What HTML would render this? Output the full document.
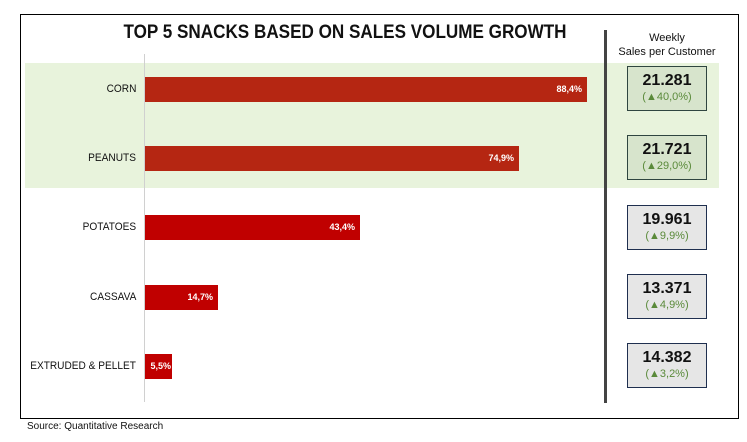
<!DOCTYPE html>
<html><head><meta charset="utf-8"><style>
body{margin:0;width:747px;height:442px;background:#fff;position:relative;overflow:hidden;font-family:"Liberation Sans",sans-serif}
div{position:absolute;box-sizing:border-box}
.lab{right:611px;font-size:11px;color:#111;text-align:right;white-space:nowrap;transform:scaleX(0.92);transform-origin:right center}
.bar{left:145px;height:25px}
.bv{font-size:9px;font-weight:bold;color:#fff;right:5px;top:7px}
.box{left:627px;width:80px;height:45px;border:1.5px solid #1f2f4f;text-align:center}
.num{position:static;font-size:16px;font-weight:bold;color:#111;margin-top:5px;line-height:18px}
.pct{position:static;font-size:11px;color:#5a8a3a;line-height:14px}
</style></head><body>
<div style="left:20px;top:14px;width:719px;height:405px;border:1.5px solid #000"></div>
<div style="left:25px;top:63px;width:694px;height:125px;background:#e8f3dc"></div>
<div style="left:0;top:22px;width:690px;text-align:center;font-size:19px;font-weight:bold;color:#111;transform:scaleX(0.9)">TOP 5 SNACKS BASED ON SALES VOLUME GROWTH</div>
<div style="left:606px;top:31px;width:122px;text-align:center;font-size:11px;line-height:14px;color:#111">Weekly<br>Sales per Customer</div>
<div style="left:144px;top:54px;width:1px;height:348px;background:#d0d0d0"></div>
<div style="left:604px;top:30px;width:3px;height:373px;background:#444"></div>

<div class="lab" style="top:83px">CORN</div>
<div class="lab" style="top:152px">PEANUTS</div>
<div class="lab" style="top:221px">POTATOES</div>
<div class="lab" style="top:291px">CASSAVA</div>
<div class="lab" style="top:360px">EXTRUDED &amp; PELLET</div>

<div class="bar" style="top:77px;width:442px;background:#b52612"><div class="bv">88,4%</div></div>
<div class="bar" style="top:146px;width:374px;background:#b52612"><div class="bv">74,9%</div></div>
<div class="bar" style="top:215px;width:215px;background:#c00000"><div class="bv">43,4%</div></div>
<div class="bar" style="top:285px;width:73px;background:#c00000"><div class="bv">14,7%</div></div>
<div class="bar" style="top:354px;width:27px;background:#c00000"><div class="bv" style="right:1px">5,5%</div></div>

<div class="box" style="top:66px;background:#d7e4cc;border-color:#2f4540"><div class="num">21.281</div><div class="pct">(▲40,0%)</div></div>
<div class="box" style="top:135px;background:#d7e4cc;border-color:#2f4540"><div class="num">21.721</div><div class="pct">(▲29,0%)</div></div>
<div class="box" style="top:205px;background:#e6e6e6"><div class="num">19.961</div><div class="pct">(▲9,9%)</div></div>
<div class="box" style="top:274px;background:#e6e6e6"><div class="num">13.371</div><div class="pct">(▲4,9%)</div></div>
<div class="box" style="top:343px;background:#e6e6e6"><div class="num">14.382</div><div class="pct">(▲3,2%)</div></div>

<div style="left:27px;top:421px;font-size:10px;color:#111">Source: Quantitative Research</div>
</body></html>
